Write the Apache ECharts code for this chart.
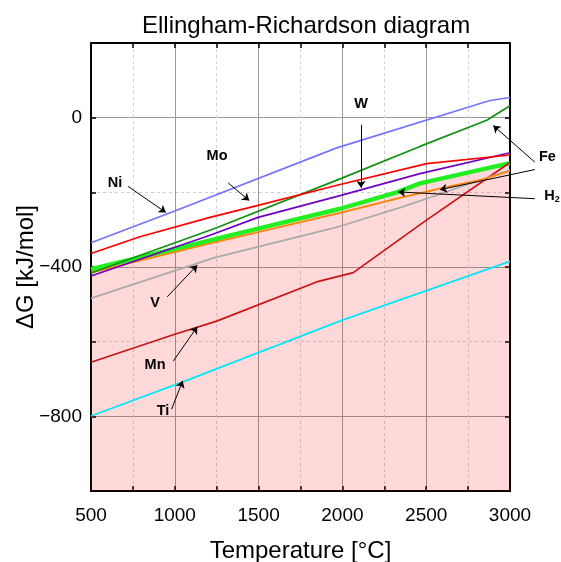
<!DOCTYPE html>
<html>
<head>
<meta charset="utf-8">
<script src="https://cdn.jsdelivr.net/npm/echarts@6/dist/echarts.min.js"></script>
<style>
  html, body { margin: 0; padding: 0; background: #fff; }
  #chart { width: 561px; height: 562px; }
</style>
</head>
<body>
<div id="chart"></div>
<script>
// Standard Gibbs energy of oxide formation, ΔG [kJ/mol], against temperature [°C]
const niLine = [[500, -335], [1000, -250], [1966, -81], [2880, 46], [2910, 48], [3000, 54]];
const moLine = [[500, -364], [792, -319], [1210, -267], [1497, -235], [1986, -179], [2503, -123], [3000, -100]];
const fePrimary = [[500, -416], [1238, -297], [1986, -164], [2463, -77], [2861, -7], [3000, 32]];
const wLine = [[500, -424], [1210, -315], [1497, -267], [1986, -209], [2463, -150], [3000, -94]];
const h2Line = [[500, -406], [1210, -329], [1497, -297], [1986, -244], [2324, -200], [2463, -176], [3000, -122]];
const feSecondary = [[500, -415], [1210, -337], [1986, -255], [2344, -215], [2600, -188], [2840, -165], [3000, -143]];
const vLine = [[500, -484], [661, -460], [1238, -375], [1986, -291], [2344, -241], [2503, -217], [2861, -161], [3000, -140]];
const mnLine = [[500, -655], [1000, -580], [1250, -545], [1846, -440], [2065, -415], [2493, -277], [3000, -120]];
const tiLine = [[500, -799], [1041, -709], [1996, -543], [3000, -385]];

// Axis ranges and labelled ticks
const xRange = [500, 3000];
const xStep = 250;
const xLabelled = [500, 1000, 1500, 2000, 2500, 3000];
const yRange = [-1000, 200];
const yStep = 200;
const yLabelled = [0, -400, -800];

// Element names and the points their call-out arrows run between (data units)
const calloutNames = ['Ni', 'Mo', 'W', 'Fe', 'H2', 'V', 'Mn', 'Ti'];
const calloutAnchors = [[643, -174], [1252, -104], [2111, 37], [3223, -106], [3250, -211], [882, -497], [882, -663], [930, -786]];
const calloutArrows = [
  [[721, -184], [947, -254]],
  [[1319, -175], [1444, -222]],
  [[2111, -19], [2111, -188]],
  [[3148, -119], [2900, -21]],
  [[3148, -139], [2582, -193]],
  [[3148, -217], [2333, -199]],
  [[955, -480], [1134, -395]],
  [[991, -652], [1134, -560]],
  [[981, -781], [1047, -705]]
];

const FONT = "'Liberation Sans', Arial, sans-serif";
const fmtMinus = v => String(v).replace('-', '\u2212');

function curve(name, data, color, width) {
  return {
    name: name,
    type: 'line',
    data: data,
    showSymbol: false,
    symbol: 'none',
    lineStyle: { color: color, width: width },
    itemStyle: { color: color },
    animation: false,
    z: 3
  };
}

const chart = echarts.init(document.getElementById('chart'), null, { renderer: 'canvas' });

const h2Series = curve('H2', h2Line, '#22ee22', 4.4);
h2Series.areaStyle = { origin: 'start', color: 'rgba(255, 0, 0, 0.21)' };
h2Series.z = 2;

chart.setOption({
  backgroundColor: '#fff',
  animation: false,
  textStyle: { fontFamily: FONT },
  title: {
    text: 'Ellingham-Richardson diagram',
    left: 137,
    top: 9,
    textStyle: { fontFamily: FONT, fontSize: 24, fontWeight: 'normal', color: '#000' }
  },
  grid: { left: 91, right: 51, top: 43, bottom: 71, containLabel: false, outerBoundsMode: 'none' },
  xAxis: [
    {
      type: 'value', position: 'bottom',
      min: xRange[0], max: xRange[1], interval: xStep,
      axisLine: { show: true, onZero: false, lineStyle: { color: '#000', width: 2 } },
      axisTick: { show: true, inside: true, length: 5, lineStyle: { color: '#000', width: 1.5 } },
      axisLabel: {
        margin: 15, fontSize: 19, color: '#000', fontFamily: FONT,
        formatter: v => (xLabelled.indexOf(v) >= 0 ? String(v) : '')
      },
      splitLine: { show: true, lineStyle: { color: ['#9a9a9a', 'transparent'], width: 1, type: 'solid' } },
      name: 'Temperature [°C]', nameLocation: 'middle', nameGap: 48, nameMoveOverlap: false,
      nameTextStyle: { fontSize: 24, color: '#000', fontFamily: FONT }
    },
    {
      type: 'value', position: 'top',
      min: xRange[0], max: xRange[1], interval: xStep,
      axisLine: { show: true, onZero: false, lineStyle: { color: '#000', width: 2 } },
      axisTick: { show: true, inside: true, length: 5, lineStyle: { color: '#000', width: 1.5 } },
      axisLabel: { show: false },
      splitLine: { show: true, lineStyle: { color: ['transparent', '#cfcfcf'], width: 1, type: [3, 3] } }
    }
  ],
  yAxis: [
    {
      type: 'value', position: 'left',
      min: yRange[0], max: yRange[1], interval: yStep,
      axisLine: { show: true, onZero: false, lineStyle: { color: '#000', width: 2 } },
      axisTick: { show: true, inside: true, length: 5, lineStyle: { color: '#000', width: 1.5 } },
      axisLabel: {
        margin: 9, fontSize: 19, color: '#000', fontFamily: FONT,
        formatter: v => (yLabelled.indexOf(v) >= 0 ? fmtMinus(v) : '')
      },
      splitLine: { show: true, lineStyle: { color: ['transparent', '#9a9a9a'], width: 1, type: 'solid' } },
      name: 'ΔG [kJ/mol]', nameLocation: 'middle', nameGap: 53, nameRotate: 90, nameMoveOverlap: false,
      nameTextStyle: { fontSize: 24, color: '#000', fontFamily: FONT }
    },
    {
      type: 'value', position: 'right',
      min: yRange[0], max: yRange[1], interval: yStep,
      axisLine: { show: true, onZero: false, lineStyle: { color: '#000', width: 2 } },
      axisTick: { show: true, inside: true, length: 5, lineStyle: { color: '#000', width: 1.5 } },
      axisLabel: { show: false },
      splitLine: { show: true, lineStyle: { color: ['#cfcfcf', 'transparent'], width: 1, type: [3, 3] } }
    }
  ],
  series: [
    h2Series,
    curve('Ti', tiLine, '#00e8f8', 1.7),
    curve('Mn', mnLine, '#c81414', 1.7),
    curve('V', vLine, '#aaaaaa', 1.7),
    curve('Fe (2)', feSecondary, '#ff8000', 1.7),
    curve('W', wLine, '#7000c0', 1.7),
    curve('Fe', fePrimary, '#129012', 1.7),
    curve('Mo', moLine, '#ff0000', 1.7),
    curve('Ni', niLine, '#7474ff', 1.7),
    {
      name: 'callout arrows',
      type: 'lines',
      coordinateSystem: 'cartesian2d',
      clip: false,
      silent: true,
      animation: false,
      z: 6,
      symbol: ['none', 'arrow'],
      symbolSize: 7,
      lineStyle: { color: '#000', width: 1, opacity: 1 },
      data: calloutArrows.map(a => ({ coords: a }))
    },
    {
      name: 'callouts',
      type: 'scatter',
      data: calloutNames.map((n, i) => ({ name: n, value: calloutAnchors[i] })),
      symbolSize: 0,
      clip: false,
      silent: true,
      animation: false,
      z: 6,
      itemStyle: { opacity: 1 },
      label: {
        show: true,
        position: 'inside',
        color: '#000',
        opacity: 1,
        textBorderWidth: 0,
        fontFamily: FONT,
        fontSize: 14.5,
        fontWeight: 'bold',
        formatter: p => (p.name === 'H2' ? '{h|H}{s|2}' : p.name),
        rich: {
          h: { fontSize: 14.5, fontWeight: 'bold', fontFamily: FONT, color: '#000' },
          s: { fontSize: 9, fontWeight: 'bold', fontFamily: FONT, color: '#000', padding: [7, 0, 0, 0] }
        }
      }
    }
  ]
});
</script>
</body>
</html>
